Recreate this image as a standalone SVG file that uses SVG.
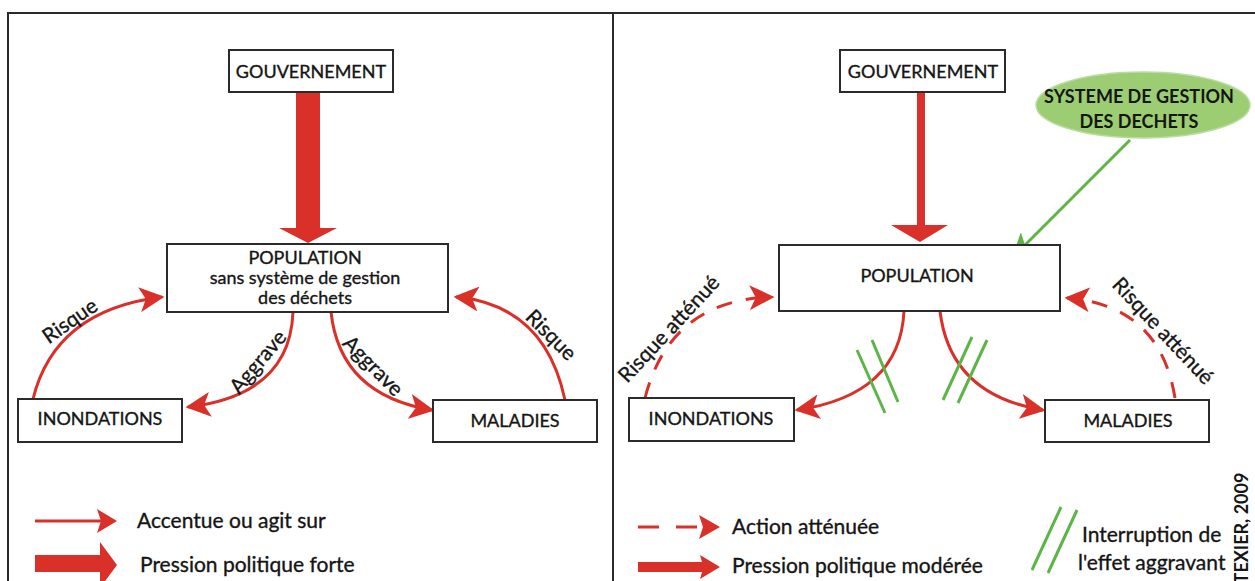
<svg xmlns="http://www.w3.org/2000/svg" width="1255" height="581" viewBox="0 0 1255 581">
<style>
.bg{fill:#ffffff}
.frame{stroke:#2a2a2a;stroke-width:2;fill:none}
.box{fill:#ffffff;stroke:#2b2b2b;stroke-width:2}
.t{font-family:Lato,"Open Sans","Liberation Sans",sans-serif;font-size:18px;fill:#151515;stroke:#151515;stroke-width:0.35}
.lg{font-size:21px}
.lb{font-size:21px}
.c{text-anchor:middle}
.b{font-weight:bold;stroke:none}
.red{stroke:#d9302a;fill:none;stroke-width:3}
.redf{fill:#d9302a}
.dash{stroke-dasharray:16 14}
.grn{stroke:#5cb546;stroke-width:3;fill:none}
</style>
<defs>
<marker id="ah" viewBox="0 0 20 20" markerUnits="userSpaceOnUse" markerWidth="25" markerHeight="25" refX="18" refY="10" orient="auto">
<path d="M0,0 L20,10 L0,20 L5,10 z" fill="#d9302a"/>
</marker>
<marker id="ahg" viewBox="0 0 20 20" markerUnits="userSpaceOnUse" markerWidth="24" markerHeight="24" refX="18" refY="10" orient="auto">
<path d="M0,0 L20,10 L0,20 L5,10 z" fill="#5cb546"/>
</marker>
</defs>
<rect class="bg" x="0" y="0" width="1255" height="581"/>
<g id="frame">
<path class="frame" d="M8,581 V13 H1255 M613,13 V581"/>
</g>

<g id="connectors">
<!-- left panel -->
<polygon class="redf" points="296,92 320,92 320,228 337,228 308,243 279,228 296,228"/>
<path class="red" d="M33,399 Q55,310 162,297" marker-end="url(#ah)"/>
<path class="red" d="M293,312 Q290,395 188,407" marker-end="url(#ah)"/>
<path class="red" d="M331,312 Q340,395 432,410" marker-end="url(#ah)"/>
<path class="red" d="M565,400 Q545,305 456,297" marker-end="url(#ah)"/>
<!-- right panel -->
<polygon class="redf" points="917,92 925,92 925,225 948,225 920,242 891,225 917,225"/>
<path class="grn" d="M1130,140 L1014,256" marker-end="url(#ahg)"/>
<path class="red dash" d="M645,398 Q670,300 772,297" marker-end="url(#ah)"/>
<path class="red dash" d="M1175,398 Q1160,305 1067,298" marker-end="url(#ah)"/>
<path class="red" d="M904,311 Q900,395 797,410" marker-end="url(#ah)"/>
<path class="red" d="M940,311 Q950,395 1043,410" marker-end="url(#ah)"/>
<path class="grn" d="M857,350 L885,413 M872,340 L898,402"/>
<path class="grn" d="M972,337 L943,400 M987,340 L958,403"/>
</g>

<g id="gouv-left">
<rect class="box" x="229" y="50" width="164" height="42"/>
<text class="t c" x="311" y="78">GOUVERNEMENT</text>
</g>
<g id="population-left">
<rect class="box" x="167" y="244" width="281" height="68"/>
<text class="t c" x="305" y="264">POPULATION</text>
<text class="t c" x="305" y="284" font-size="16">sans système de gestion</text>
<text class="t c" x="305" y="304" font-size="16">des déchets</text>
</g>
<g id="inondations-left">
<rect class="box" x="18" y="399" width="164" height="43"/>
<text class="t c" x="100" y="425">INONDATIONS</text>
</g>
<g id="maladies-left">
<rect class="box" x="433" y="400" width="164" height="42"/>
<text class="t c" x="515" y="427">MALADIES</text>
</g>
<g id="labels-left">
<text class="t lb c" transform="translate(70,321) rotate(-35)" y="7">Risque</text>
<text class="t lb c" transform="translate(258,362) rotate(-50)" y="7">Aggrave</text>
<text class="t lb c" transform="translate(373,366) rotate(45)" y="7">Aggrave</text>
<text class="t lb c" transform="translate(551,335) rotate(45)" y="7">Risque</text>
</g>
<g id="legend-left">
<line class="red" x1="35" y1="521" x2="105" y2="521"/>
<path class="redf" d="M97,509 L117,521 L97,533 L101,521 z"/>
<polygon class="redf" points="35,555 100,555 100,542 117,565 100,588 100,572 35,572"/>
<text class="t lg" x="137" y="528">Accentue ou agit sur</text>
<text class="t lg" x="140" y="572">Pression politique forte</text>
</g>

<g id="gouv-right">
<rect class="box" x="840" y="50" width="165" height="42"/>
<text class="t c" x="923" y="78">GOUVERNEMENT</text>
</g>
<g id="systeme">
<ellipse cx="1143" cy="105" rx="107" ry="33" fill="#9ccd72" stroke="#b9dca0" stroke-width="1.5"/>
<text class="t c b" x="1139" y="103" font-size="17">SYSTEME DE GESTION</text>
<text class="t c b" x="1139" y="128" font-size="17">DES DECHETS</text>
</g>
<g id="population-right">
<rect class="box" x="779" y="245" width="281" height="66"/>
<text class="t c" x="917" y="282">POPULATION</text>
</g>
<g id="inondations-right">
<rect class="box" x="629" y="398" width="165" height="43"/>
<text class="t c" x="711" y="425">INONDATIONS</text>
</g>
<g id="maladies-right">
<rect class="box" x="1045" y="400" width="164" height="42"/>
<text class="t c" x="1128" y="427">MALADIES</text>
</g>
<g id="labels-right">
<text class="t lb c" transform="translate(669,329) rotate(-47)" y="7">Risque atténué</text>
<text class="t lb c" transform="translate(1163,331) rotate(47)" y="7">Risque atténué</text>
</g>
<g id="legend-right">
<path class="red" d="M638,527 H659 M676,527 H697"/>
<path class="redf" d="M699,515 L720,527 L699,539 L703,527 z"/>
<polygon class="redf" points="638,562 702,562 700,555 720,567 700,579 702,572 638,572"/>
<text class="t lg" x="732" y="534">Action atténuée</text>
<text class="t lg" x="732" y="573">Pression politique modérée</text>
<path class="grn" d="M1032,570 L1061,507 M1048,573 L1077,510"/>
<text class="t lg" x="1082" y="542">Interruption de</text>
<text class="t lg" x="1078" y="570">l'effet aggravant</text>
<text class="t c b" font-size="11.5" transform="translate(1248,528) rotate(-90)">TEXIER, 2009</text>
</g>
</svg>
